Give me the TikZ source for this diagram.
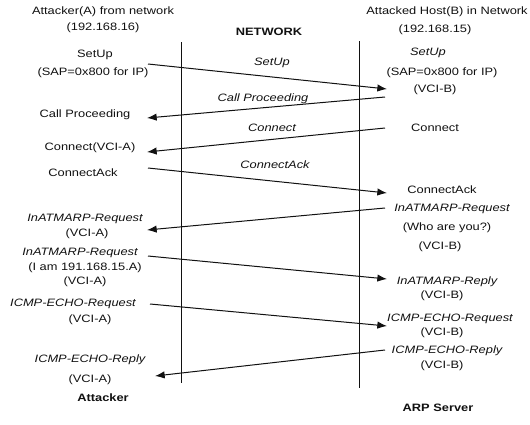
\documentclass[tikz,border=0pt]{standalone}
\usepackage{fontspec}
\setmainfont{Liberation Sans}[FakeStretch=1.2]
\usepackage{xcolor}
\definecolor{Ink}{HTML}{111111}
\usepackage{tikz}
\usetikzlibrary{arrows.meta,positioning}
\tikzset{
  txt/.style={inner sep=0pt,text=Ink,font=\fontsize{10.7}{12}\selectfont},
  msg/.style={txt,font=\fontsize{10.7}{12}\selectfont\itshape},
  hdr/.style={txt,font=\fontsize{10.7}{12}\selectfont\bfseries},
  lifeline/.style={line width=1pt,draw=Ink},
  flow/.style={-{Latex[length=3.4mm,width=2.6mm]},line width=1pt,draw=Ink}
}
\begin{document}
\begin{tikzpicture}[x=1pt,y=-1pt]
  \useasboundingbox (0,0) rectangle (530,424);
  \node[txt] (hdrA) at (103,12) {Attacker(A) from network};
  \node[txt] (ipA) at (103,28) {(192.168.16)};
  \node[hdr] (net) at (269,32) {NETWORK};
  \node[txt] (hdrB) at (447,12) {Attacked Host(B) in Network};
  \node[txt] (ipB) at (435,30) {(192.168.15)};
  \node[txt] (setupA) at (95,55) {SetUp};
  \node[txt] (sapA) at (93,73) {(SAP=0x800 for IP)};
  \node[txt] (procA) at (85,115) {Call Proceeding};
  \node[txt] (connA) at (90,148) {Connect(VCI-A)};
  \node[txt] (ackA) at (83,173) {ConnectAck};
  \node[msg] (reqA) at (85,219) {InATMARP-Request};
  \node[txt] (vciA1) at (87,234) {(VCI-A)};
  \node[msg] (reqA2) at (80,253) {InATMARP-Request};
  \node[txt] (iamA) at (85,268) {(I am 191.168.15.A)};
  \node[txt] (vciA2) at (85,282) {(VCI-A)};
  \node[msg] (echoA) at (73,304) {ICMP-ECHO-Request};
  \node[txt] (vciA3) at (90,320) {(VCI-A)};
  \node[msg] (replyA) at (90,360) {ICMP-ECHO-Reply};
  \node[txt] (vciA4) at (90,380) {(VCI-A)};
  \node[hdr] (attacker) at (103,398) {Attacker};
  \node[msg] (setupB) at (428,53) {SetUp};
  \node[txt] (sapB) at (442,73) {(SAP=0x800 for IP)};
  \node[txt] (vciB1) at (435,90) {(VCI-B)};
  \node[txt] (connB) at (435,128) {Connect};
  \node[txt] (ackB) at (442,190) {ConnectAck};
  \node[msg] (reqB) at (452,209) {InATMARP-Request};
  \node[txt] (whoB) at (447,228) {(Who are you?)};
  \node[txt] (vciB2) at (440,247) {(VCI-B)};
  \node[msg] (repB) at (447,282) {InATMARP-Reply};
  \node[txt] (vciB3) at (442,296) {(VCI-B)};
  \node[msg] (echoB) at (450,319) {ICMP-ECHO-Request};
  \node[txt] (vciB4) at (442,333) {(VCI-B)};
  \node[msg] (replyB) at (447,351) {ICMP-ECHO-Reply};
  \node[txt] (vciB5) at (442,366) {(VCI-B)};
  \node[hdr] (arp) at (438,408) {ARP Server};
  \node[msg] (setupM) at (272,63) {SetUp};
  \node[msg] (procM) at (263,99) {Call Proceeding};
  \node[msg] (connM) at (272,128) {Connect};
  \node[msg] (ackM) at (275,165) {ConnectAck};
  \coordinate (topA) at (181,42);
  \coordinate (botA) at (181,383);
  \coordinate (topB) at (359,41);
  \coordinate (botB) at (359,388);
  \coordinate (s1) at (148,64);  \coordinate (e1) at (387,89);
  \coordinate (s2) at (385,97);  \coordinate (e2) at (147,118);
  \coordinate (s3) at (385,128); \coordinate (e3) at (147,152);
  \coordinate (s4) at (148,168); \coordinate (e4) at (387,193);
  \coordinate (s5) at (385,208); \coordinate (e5) at (147,230);
  \coordinate (s6) at (148,256); \coordinate (e6) at (387,279);
  \coordinate (s7) at (150,304); \coordinate (e7) at (387,326);
  \coordinate (s8) at (385,350); \coordinate (e8) at (155,376);
  \draw[lifeline] (topA) -- (botA);
  \draw[lifeline] (topB) -- (botB);
  \foreach \i in {1,...,8}
    \draw[flow] (s\i) -- (e\i);
\end{tikzpicture}
\end{document}
